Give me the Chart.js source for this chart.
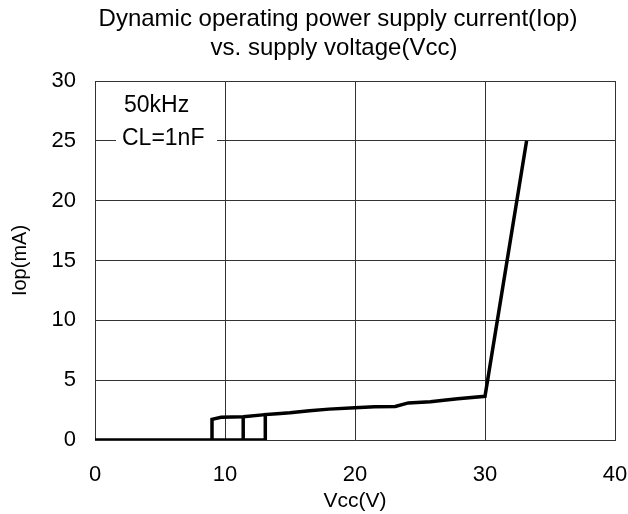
<!DOCTYPE html>
<html>
<head>
<meta charset="utf-8">
<script src="https://cdn.jsdelivr.net/npm/chart.js@4"></script>
<style>
  html, body { margin: 0; padding: 0; background: #fff; }
  #wrap { width: 628px; height: 514px; }
</style>
</head>
<body>
<div id="wrap"><canvas id="chart" width="628" height="514"></canvas></div>
<script>
// main curve
const vccMain = [0, 13.1, 13.1, 14, 15, 16.5, 18, 20, 21.5, 23.1, 24.1, 25.8, 27, 27.9, 30, 33.2];
const iopMain = [0, 0, 2.12, 2.2, 2.28, 2.45, 2.58, 2.7, 2.78, 2.8, 3.1, 3.2, 3.35, 3.45, 3.65, 25];
// hysteresis steps under 13V
const vccLow = [9, 9, 9.7, 11.4, 13.1];
const iopLow = [0, 1.73, 1.9, 1.95, 2.12];
const vccMid = [11.4, 11.4];
const iopMid = [0, 1.95];

const xTicks = [0, 10, 20, 30, 40];
const yTicks = [0, 5, 10, 15, 20, 25, 30];
const noteLines = ['50kHz', 'CL=1nF'];

const FONT = 'Liberation Sans, Arial, sans-serif';

function pts(xs, ys) {
    return xs.map((x, i) => ({ x: x, y: ys[i] }));
}

const lineStyle = {
    borderColor: '#000',
    borderWidth: 3.5,
    pointRadius: 0,
    tension: 0,
    fill: false
};

// title + note box drawn on the canvas
const extras = {
    id: 'extras',
    beforeDatasetsDraw(chart) {
        const ctx = chart.ctx;
        ctx.save();
        ctx.font = '24px ' + FONT;
        ctx.fillStyle = '#000';
        ctx.textAlign = 'center';
        ctx.textBaseline = 'middle';
        ctx.fillText('Dynamic operating power supply current(Iop)', 338, 19);
        ctx.fillText('vs. supply voltage(Vcc)', 334, 48);

        // note box hides the grid
        ctx.fillStyle = '#fff';
        ctx.fillRect(116, 90, 101, 62);
        ctx.font = '23px ' + FONT;
        ctx.fillStyle = '#000';
        ctx.textAlign = 'left';
        ctx.fillText(noteLines[0], 124, 106);
        ctx.fillText(noteLines[1], 122, 139);
        ctx.restore();
    }
};

new Chart(document.getElementById('chart'), {
    type: 'line',
    data: {
        datasets: [
            Object.assign({ data: pts(vccMain, iopMain) }, lineStyle),
            Object.assign({ data: pts(vccLow, iopLow) }, lineStyle),
            Object.assign({ data: pts(vccMid, iopMid) }, lineStyle)
        ]
    },
    options: {
        responsive: false,
        animation: false,
        layout: { padding: { top: 81, right: 13, left: 0, bottom: 0 } },
        plugins: {
            legend: { display: false },
            tooltip: { enabled: false }
        },
        scales: {
            x: {
                type: 'linear',
                min: 0,
                max: 40,
                afterBuildTicks(s) { s.ticks = xTicks.map(v => ({ value: v })); },
                afterFit(s) { s.height = 74; s.paddingRight = 0; s.paddingLeft = 0; },
                grid: { color: '#333', lineWidth: 1, drawTicks: false },
                border: { color: '#333', width: 1 },
                ticks: { color: '#000', font: { family: FONT, size: 22 }, padding: 22, maxRotation: 0 },
                title: { display: true, text: 'Vcc(V)', color: '#000', font: { family: FONT, size: 21 }, padding: { top: 0, bottom: 0 } }
            },
            y: {
                min: 0,
                max: 30,
                afterBuildTicks(s) { s.ticks = yTicks.map(v => ({ value: v })); },
                afterFit(s) { s.width = 95; s.paddingTop = 0; s.paddingBottom = 0; },
                grid: { color: '#333', lineWidth: 1, drawTicks: false },
                border: { color: '#333', width: 1 },
                ticks: { color: '#000', font: { family: FONT, size: 22 }, padding: 19 },
                title: { display: true, text: 'Iop(mA)', color: '#000', font: { family: FONT, size: 20 }, padding: { top: 8, bottom: 0 } }
            }
        }
    },
    plugins: [extras]
});
</script>
</body>
</html>
